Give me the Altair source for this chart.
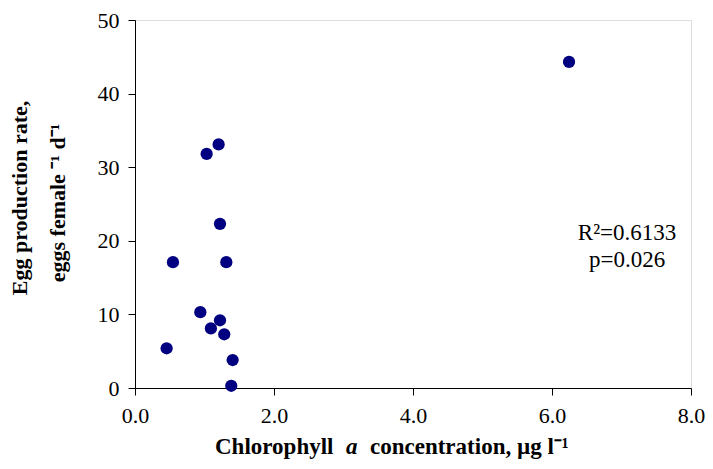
import altair as alt
import pandas as pd

chl = [0.455, 0.546, 0.94, 1.031, 1.092, 1.203, 1.223, 1.223, 1.284, 1.314, 1.385, 1.405, 6.245]
egg = [5.4, 17.1, 10.3, 31.8, 8.1, 33.1, 22.3, 9.2, 7.3, 17.1, 0.3, 3.8, 44.3]

x_ticks = [0, 2, 4, 6, 8]
y_ticks = [0, 10, 20, 30, 40, 50]

stat_lines = ["R²=0.6133", "p=0.026"]
stat_x = [7.08, 7.08]
stat_y = [20.1, 16.4]

df = pd.DataFrame({"chl": chl, "egg": egg})
sdf = pd.DataFrame({"t": stat_lines, "x": stat_x, "y": stat_y})

FONT = "Liberation Serif, Times New Roman, serif"
W, H = 556, 368

xs = alt.Scale(domain=[0, 8], nice=False, zero=True)
ys = alt.Scale(domain=[0, 50], nice=False)

points = alt.Chart(df).mark_circle(size=150, color="#000080", opacity=1).encode(
    x=alt.X("chl:Q", scale=xs,
            axis=alt.Axis(values=x_ticks, format=".1f", title=None, grid=False,
                          labelFont=FONT, labelFontSize=22, labelColor="black",
                          labelFlush=False, labelOverlap=False,
                          domainColor="black", tickColor="black", tickSize=7,
                          labelPadding=10)),
    y=alt.Y("egg:Q", scale=ys,
            axis=alt.Axis(values=y_ticks, format="d", grid=False, title=None,
                          labelFont=FONT, labelFontSize=22, labelColor="black",
                          labelFlush=False, labelOverlap=False,
                          domainColor="black", tickColor="black", tickSize=7,
                          labelPadding=9)),
)

stats = alt.Chart(sdf).mark_text(font=FONT, fontSize=23, color="black", align="center",
                                 baseline="alphabetic").encode(
    x=alt.X("x:Q", scale=xs), y=alt.Y("y:Q", scale=ys), text="t:N")

# x-axis title pieces (italic "a")
x_title_texts = ["Chlorophyll", "a", "concentration, µg l⁻¹"]
x_title_px = [80, 211, 235]
parts = []
for txt, px in zip(x_title_texts, x_title_px):
    style = "italic" if txt == "a" else "normal"
    parts.append(
        alt.Chart(pd.DataFrame({"t": [txt]})).mark_text(
            font=FONT, fontSize=23, fontWeight="bold", fontStyle=style,
            color="black", align="left", baseline="alphabetic"
        ).encode(x=alt.value(px), y=alt.value(H + 66), text="t:N")
    )

# y-axis title, two rotated lines
y_title_texts = ["Egg production rate,", "eggs female ⁻¹ d⁻¹"]
y_title_px = [-108, -70]
y_title_py = [178, 183]
for txt, px, py in zip(y_title_texts, y_title_px, y_title_py):
    parts.append(
        alt.Chart(pd.DataFrame({"t": [txt]})).mark_text(
            font=FONT, fontSize=22, fontWeight="bold", angle=270,
            color="black", align="center", baseline="alphabetic"
        ).encode(x=alt.value(px), y=alt.value(py), text="t:N")
    )

chart = alt.layer(points, stats, *parts).properties(
    width=W, height=H,
    autosize=alt.AutoSizeParams(type="none"),
    padding={"left": 127, "top": 12, "right": 14, "bottom": 72},
).configure_view(stroke="#c0c0c0", strokeWidth=1.5).configure(
    background="white", font=FONT)

chart.save("out.html", embed_options={"renderer": "svg", "actions": False})
